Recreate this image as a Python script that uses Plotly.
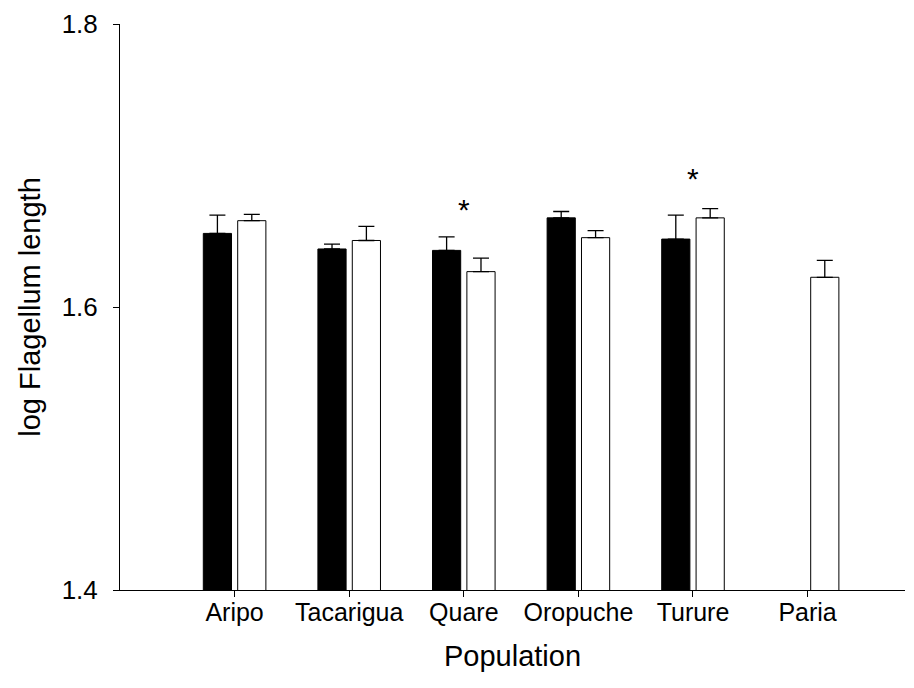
import plotly.graph_objects as go

# Mean log flagellum length per population, two groups, with standard errors
populations = ["Aripo", "Tacarigua", "Quare", "Oropuche", "Turure", "Paria"]
black_mean = [1.652, 1.641, 1.640, 1.663, 1.648, None]
black_se = [0.013, 0.0035, 0.0095, 0.0045, 0.017, None]
white_mean = [1.661, 1.647, 1.625, 1.649, 1.663, 1.621]
white_se = [0.0045, 0.010, 0.0095, 0.005, 0.0065, 0.012]

# Populations with a significant difference, and where the marker sits
signif_pops = ["Quare", "Turure"]
signif_y = [1.6706, 1.6923]

FONT = "Liberation Sans, Arial, sans-serif"
xpos = list(range(len(populations)))

fig = go.Figure()
fig.add_trace(go.Bar(
    x=xpos, y=black_mean,
    marker=dict(color="black", line=dict(color="black", width=1)),
    error_y=dict(type="data", array=black_se, arrayminus=[0] * len(black_se),
                 symmetric=False, color="black", thickness=1.3, width=8),
    showlegend=False,
))
fig.add_trace(go.Bar(
    x=xpos, y=white_mean,
    marker=dict(color="white", line=dict(color="black", width=1)),
    error_y=dict(type="data", array=white_se, arrayminus=[0] * len(white_se),
                 symmetric=False, color="black", thickness=1.3, width=8),
    showlegend=False,
))

for pop, yv in zip(signif_pops, signif_y):
    fig.add_annotation(x=populations.index(pop), y=yv, text="*", showarrow=False,
                       font=dict(family=FONT, size=30, color="black"),
                       xanchor="center", yanchor="middle", yshift=-2)

fig.update_layout(
    width=914, height=688,
    margin=dict(l=120, r=9, t=22, b=98),
    paper_bgcolor="white", plot_bgcolor="white",
    barmode="group", bargap=0.4, bargroupgap=0.18,
    font=dict(family=FONT, color="black"),
)
fig.update_xaxes(
    range=[-1, 5.85], tickvals=xpos, ticktext=populations,
    showline=True, linecolor="black", linewidth=1,
    ticks="outside", ticklen=6, tickcolor="black", ticklabelstandoff=-6,
    tickfont=dict(size=25), showgrid=False, zeroline=False,
    title=dict(text="Population", font=dict(size=29), standoff=20),
)
fig.update_yaxes(
    range=[1.4, 1.8], tickvals=[1.4, 1.6, 1.8], ticktext=["1.4", "1.6", "1.8"],
    showline=True, linecolor="black", linewidth=1,
    ticks="outside", ticklen=6, tickcolor="black", ticklabelstandoff=10,
    tickfont=dict(size=26), showgrid=False, zeroline=False,
    title=dict(text="log Flagellum length", font=dict(size=29), standoff=12),
)

fig.write_html("out.html")
